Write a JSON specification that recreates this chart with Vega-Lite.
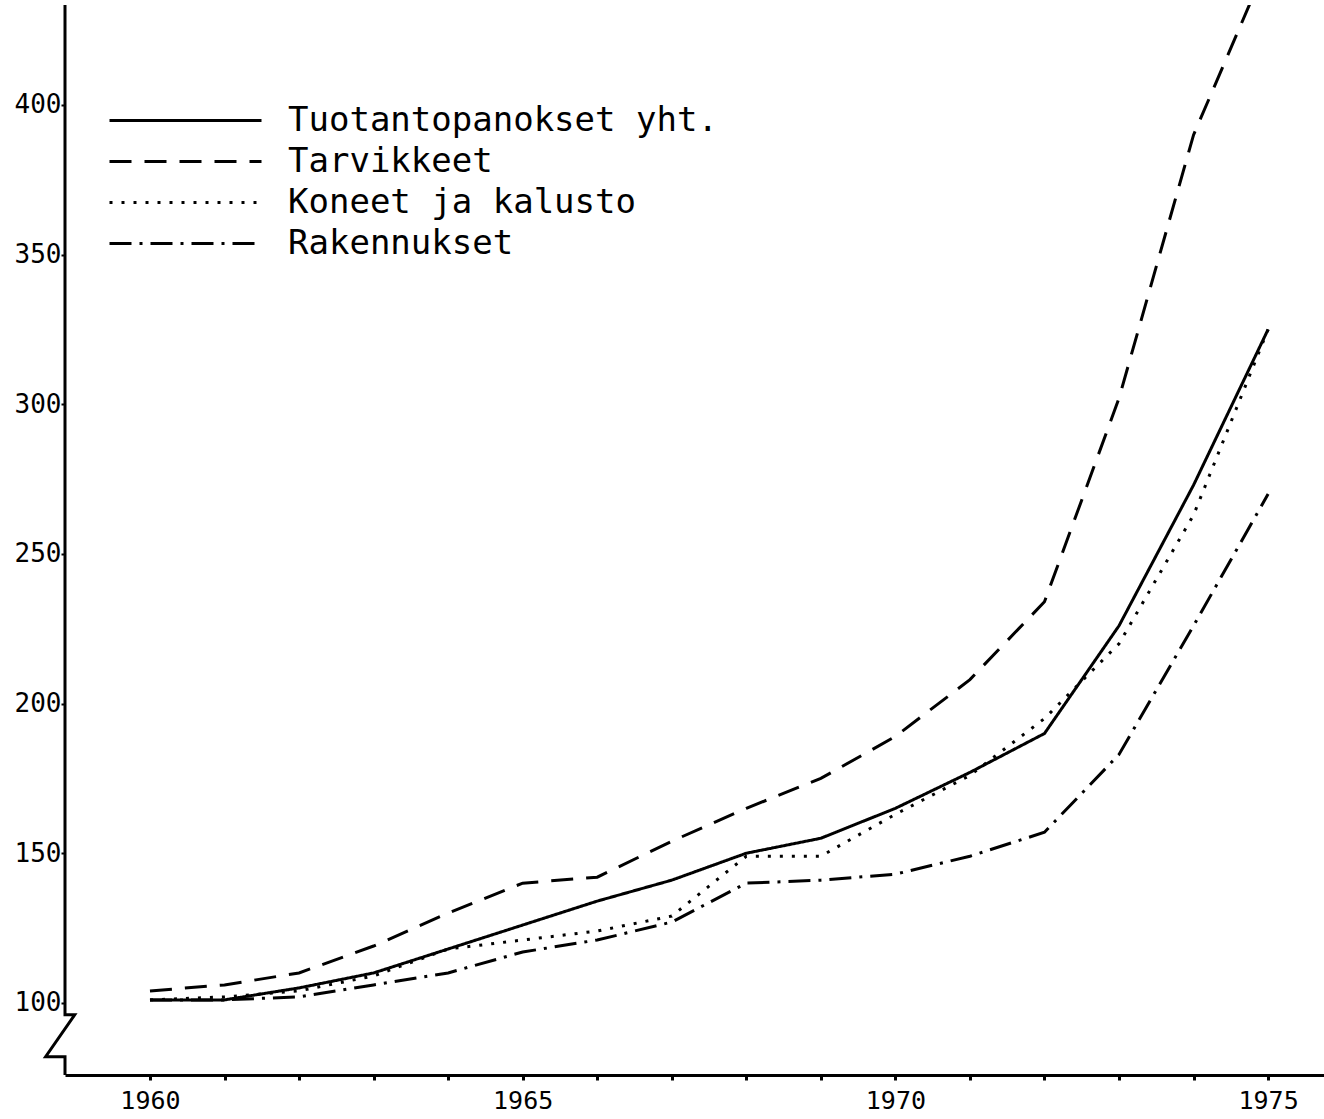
{
  "$schema": "https://vega.github.io/schema/vega-lite/v6.json",
  "autosize": {"type": "none"},
  "width": 1259,
  "height": 1070,
  "padding": {"left": 65, "top": 5, "right": 0, "bottom": 44},
  "background": "white",
  "config": {"view": {"stroke": null}, "axis": {"grid": false}},
  "layer": [
    {
      "data": {"values": [
        {"year": 1960, "series": "Tuotantopanokset yht.", "value": 101},
        {"year": 1961, "series": "Tuotantopanokset yht.", "value": 101},
        {"year": 1962, "series": "Tuotantopanokset yht.", "value": 105},
        {"year": 1963, "series": "Tuotantopanokset yht.", "value": 110},
        {"year": 1964, "series": "Tuotantopanokset yht.", "value": 118},
        {"year": 1965, "series": "Tuotantopanokset yht.", "value": 126},
        {"year": 1966, "series": "Tuotantopanokset yht.", "value": 134},
        {"year": 1967, "series": "Tuotantopanokset yht.", "value": 141},
        {"year": 1968, "series": "Tuotantopanokset yht.", "value": 150},
        {"year": 1969, "series": "Tuotantopanokset yht.", "value": 155},
        {"year": 1970, "series": "Tuotantopanokset yht.", "value": 165},
        {"year": 1971, "series": "Tuotantopanokset yht.", "value": 177},
        {"year": 1972, "series": "Tuotantopanokset yht.", "value": 190},
        {"year": 1973, "series": "Tuotantopanokset yht.", "value": 226},
        {"year": 1974, "series": "Tuotantopanokset yht.", "value": 273},
        {"year": 1975, "series": "Tuotantopanokset yht.", "value": 325},
        {"year": 1960, "series": "Tarvikkeet", "value": 104},
        {"year": 1961, "series": "Tarvikkeet", "value": 106},
        {"year": 1962, "series": "Tarvikkeet", "value": 110},
        {"year": 1963, "series": "Tarvikkeet", "value": 119},
        {"year": 1964, "series": "Tarvikkeet", "value": 130},
        {"year": 1965, "series": "Tarvikkeet", "value": 140},
        {"year": 1966, "series": "Tarvikkeet", "value": 142},
        {"year": 1967, "series": "Tarvikkeet", "value": 154},
        {"year": 1968, "series": "Tarvikkeet", "value": 165},
        {"year": 1969, "series": "Tarvikkeet", "value": 175},
        {"year": 1970, "series": "Tarvikkeet", "value": 189},
        {"year": 1971, "series": "Tarvikkeet", "value": 208},
        {"year": 1972, "series": "Tarvikkeet", "value": 234},
        {"year": 1973, "series": "Tarvikkeet", "value": 302},
        {"year": 1974, "series": "Tarvikkeet", "value": 390},
        {"year": 1975, "series": "Tarvikkeet", "value": 448},
        {"year": 1960, "series": "Koneet ja kalusto", "value": 101},
        {"year": 1961, "series": "Koneet ja kalusto", "value": 102},
        {"year": 1962, "series": "Koneet ja kalusto", "value": 104},
        {"year": 1963, "series": "Koneet ja kalusto", "value": 109},
        {"year": 1964, "series": "Koneet ja kalusto", "value": 118},
        {"year": 1965, "series": "Koneet ja kalusto", "value": 121},
        {"year": 1966, "series": "Koneet ja kalusto", "value": 124},
        {"year": 1967, "series": "Koneet ja kalusto", "value": 129},
        {"year": 1968, "series": "Koneet ja kalusto", "value": 149},
        {"year": 1969, "series": "Koneet ja kalusto", "value": 149},
        {"year": 1970, "series": "Koneet ja kalusto", "value": 163},
        {"year": 1971, "series": "Koneet ja kalusto", "value": 176},
        {"year": 1972, "series": "Koneet ja kalusto", "value": 195},
        {"year": 1973, "series": "Koneet ja kalusto", "value": 220},
        {"year": 1974, "series": "Koneet ja kalusto", "value": 263},
        {"year": 1975, "series": "Koneet ja kalusto", "value": 325},
        {"year": 1960, "series": "Rakennukset", "value": 101},
        {"year": 1961, "series": "Rakennukset", "value": 101},
        {"year": 1962, "series": "Rakennukset", "value": 102},
        {"year": 1963, "series": "Rakennukset", "value": 106},
        {"year": 1964, "series": "Rakennukset", "value": 110},
        {"year": 1965, "series": "Rakennukset", "value": 117},
        {"year": 1966, "series": "Rakennukset", "value": 121},
        {"year": 1967, "series": "Rakennukset", "value": 127},
        {"year": 1968, "series": "Rakennukset", "value": 140},
        {"year": 1969, "series": "Rakennukset", "value": 141},
        {"year": 1970, "series": "Rakennukset", "value": 143},
        {"year": 1971, "series": "Rakennukset", "value": 149},
        {"year": 1972, "series": "Rakennukset", "value": 157},
        {"year": 1973, "series": "Rakennukset", "value": 183},
        {"year": 1974, "series": "Rakennukset", "value": 226},
        {"year": 1975, "series": "Rakennukset", "value": 270}
      ]},
      "mark": {"type": "line", "color": "black", "strokeWidth": 3, "clip": true},
      "encoding": {
        "x": {
          "field": "year", "type": "quantitative",
          "scale": {"domain": [1958.86, 1975.75], "nice": false, "zero": false},
          "axis": {
            "title": null,
            "values": [1960,1961,1962,1963,1964,1965,1966,1967,1968,1969,1970,1971,1972,1973,1974,1975],
            "labelExpr": "datum.value % 5 === 0 ? '' + datum.value : ''",
            "domainColor": "black", "domainWidth": 3,
            "tickColor": "black", "tickWidth": 3, "tickSize": 5,
            "labelFont": "DejaVu Sans Mono", "labelFontSize": 25, "labelColor": "black",
            "labelPadding": 8
          }
        },
        "y": {
          "field": "value", "type": "quantitative",
          "scale": {"domain": [75.9, 433.4], "nice": false, "zero": false},
          "axis": {
            "title": null,
            "values": [100, 150, 200, 250, 300, 350, 400],
            "domain": false,
            "tickColor": "black", "tickWidth": 2, "tickSize": 4,
            "labelFont": "DejaVu Sans Mono", "labelFontSize": 26, "labelColor": "black",
            "labelPadding": 0
          }
        },
        "strokeDash": {
          "field": "series", "type": "nominal",
          "scale": {
            "domain": ["Tuotantopanokset yht.", "Tarvikkeet", "Koneet ja kalusto", "Rakennukset"],
            "range": [[1, 0], [22, 13], [3, 9], [22, 8, 3, 8]]
          },
          "legend": {
            "orient": "none", "legendX": 100, "legendY": 95,
            "title": null, "padding": 0,
            "symbolType": "M-4,0H4", "symbolSize": 1444,
            "symbolStrokeWidth": 3, "symbolStrokeColor": "black", "symbolFillColor": "transparent",
            "labelFont": "DejaVu Sans Mono", "labelFontSize": 34, "labelColor": "black",
            "labelLimit": 800,
            "labelOffset": 82, "rowPadding": 3
          }
        }
      }
    },
    {
      "data": {"values": [
        {"i": 0, "bx": 1958.86, "by": 433.4},
        {"i": 1, "bx": 1958.86, "by": 96},
        {"i": 2, "bx": 1958.99, "by": 96},
        {"i": 3, "bx": 1958.6, "by": 82},
        {"i": 4, "bx": 1958.86, "by": 82},
        {"i": 5, "bx": 1958.86, "by": 75.9}
      ]},
      "mark": {"type": "line", "color": "black", "strokeWidth": 3, "clip": false},
      "encoding": {
        "x": {"field": "bx", "type": "quantitative"},
        "y": {"field": "by", "type": "quantitative"},
        "order": {"field": "i", "type": "quantitative"}
      }
    }
  ]
}
